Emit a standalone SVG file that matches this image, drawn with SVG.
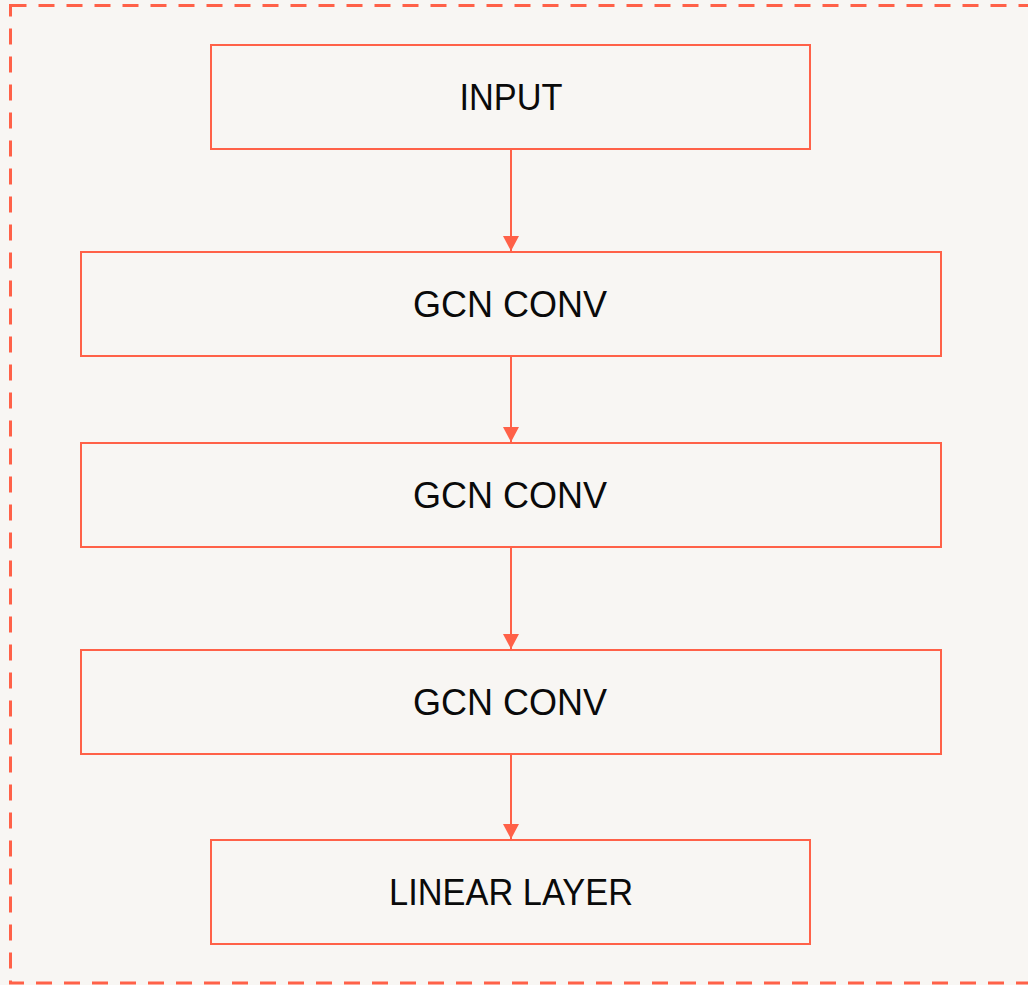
<svg xmlns="http://www.w3.org/2000/svg" width="1028" height="985" viewBox="0 0 1028 985">
  <style>
    .box { fill: #F8F6F3; stroke: #FF6148; stroke-width: 2; }
    .label { font-family: "Liberation Sans", Arial, sans-serif; font-size: 36px; fill: #0A0A0A; text-anchor: middle; }
    .edge { stroke: #FF6148; stroke-width: 2; fill: none; marker-end: url(#arrow); }
  </style>
  <defs>
    <!-- filled triangular arrowhead, tip at the end of the line -->
    <marker id="arrow" markerUnits="userSpaceOnUse" markerWidth="16" markerHeight="16" viewBox="0 0 16 16" refX="15" refY="8" orient="auto">
      <path d="M0,0 L15,8 L0,16 Z" fill="#FF6148"/>
    </marker>
  </defs>

  <!-- canvas and dashed frame -->
  <rect x="0" y="0" width="1028" height="985" fill="#F8F6F3"/>
  <rect x="10.5" y="5.5" width="1030" height="977.5" fill="none" stroke="#FF6148" stroke-width="3" stroke-dasharray="16 12"/>

  <!-- connectors -->
  <g id="connectors">
    <line class="edge" x1="511" y1="149" x2="511" y2="251"/>
    <line class="edge" x1="511" y1="356" x2="511" y2="442"/>
    <line class="edge" x1="511" y1="547" x2="511" y2="649"/>
    <line class="edge" x1="511" y1="754" x2="511" y2="839"/>
  </g>

  <g id="input">
    <rect class="box" x="211" y="45" width="599" height="104"/>
    <text class="label" x="511" y="110" textLength="103" lengthAdjust="spacingAndGlyphs">INPUT</text>
  </g>
  <g id="gcn1">
    <rect class="box" x="81" y="252" width="860" height="104"/>
    <text class="label" x="510" y="317">GCN CONV</text>
  </g>
  <g id="gcn2">
    <rect class="box" x="81" y="443" width="860" height="104"/>
    <text class="label" x="510" y="508">GCN CONV</text>
  </g>
  <g id="gcn3">
    <rect class="box" x="81" y="650" width="860" height="104"/>
    <text class="label" x="510" y="715">GCN CONV</text>
  </g>
  <g id="linear">
    <rect class="box" x="211" y="840" width="599" height="104"/>
    <text class="label" x="511" y="905" textLength="244" lengthAdjust="spacingAndGlyphs">LINEAR LAYER</text>
  </g>
</svg>
